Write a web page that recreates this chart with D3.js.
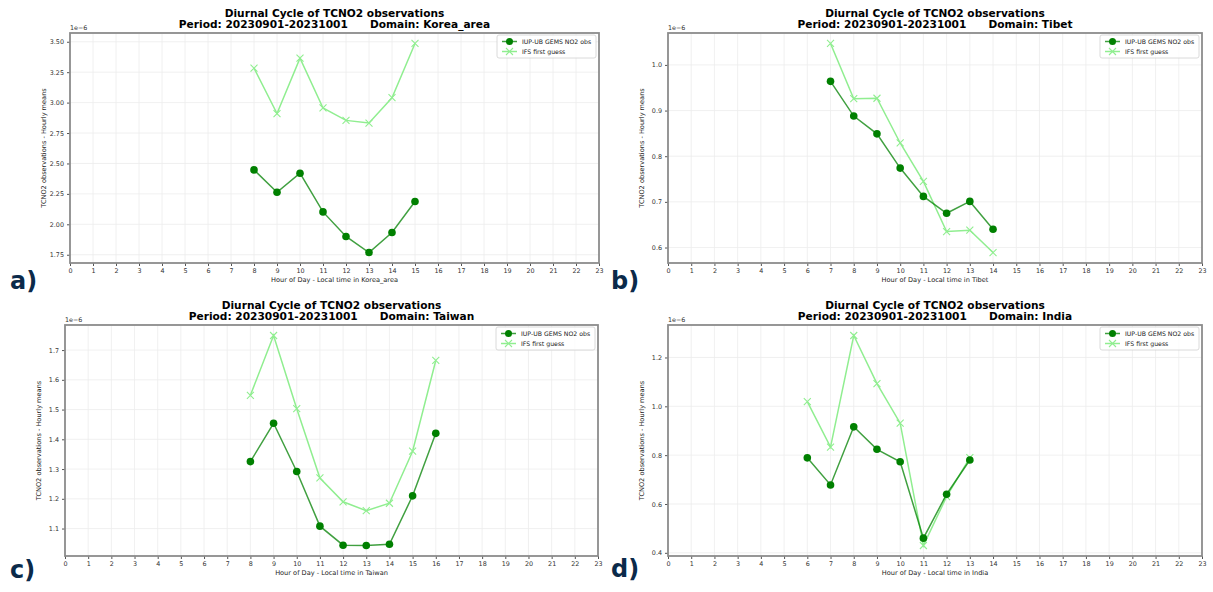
<!DOCTYPE html>
<html lang="en">
<head>
<meta charset="utf-8">
<title>Diurnal Cycle of TCNO2</title>
<script src="https://cdn.jsdelivr.net/npm/d3@7"></script>
<style>
  body { margin: 0; background: #fff; }
  text { font-family: "DejaVu Sans", sans-serif; }
</style>
</head>
<body>
<script>
// hours of day (local time) and hourly means, in units of 1e-6
var koreaHours = [8, 9, 10, 11, 12, 13, 14, 15];
var koreaObs = [2.447, 2.263, 2.42, 2.102, 1.90, 1.768, 1.933, 2.187];
var koreaIfs = [3.283, 2.91, 3.365, 2.956, 2.854, 2.832, 3.04, 3.486];
var koreaTicks = [1.75, 2.00, 2.25, 2.50, 2.75, 3.00, 3.25, 3.50];

var tibetHours = [7, 8, 9, 10, 11, 12, 13, 14];
var tibetObs = [0.964, 0.888, 0.849, 0.774, 0.712, 0.675, 0.701, 0.640];
var tibetIfs = [1.047, 0.926, 0.927, 0.829, 0.745, 0.635, 0.638, 0.589];
var tibetTicks = [0.6, 0.7, 0.8, 0.9, 1.0];

var taiwanHours = [8, 9, 10, 11, 12, 13, 14, 15, 16];
var taiwanObs = [1.325, 1.454, 1.292, 1.108, 1.044, 1.043, 1.047, 1.21, 1.42];
var taiwanIfs = [1.548, 1.749, 1.503, 1.27, 1.19, 1.16, 1.185, 1.36, 1.665];
var taiwanTicks = [1.1, 1.2, 1.3, 1.4, 1.5, 1.6, 1.7];

var indiaHours = [6, 7, 8, 9, 10, 11, 12, 13];
var indiaObs = [0.789, 0.678, 0.916, 0.824, 0.773, 0.46, 0.64, 0.78];
var indiaIfs = [1.019, 0.833, 1.29, 1.093, 0.931, 0.43, 0.63, 0.79];
var indiaTicks = [0.4, 0.6, 0.8, 1.0, 1.2];

var xTicks = [0, 1, 2, 3, 4, 5, 6, 7, 8, 9, 10, 11, 12, 13, 14, 15, 16, 17, 18, 19, 20, 21, 22, 23];
var seriesNames = ["IUP-UB GEMS NO2 obs", "IFS first guess"];
var titleLine1 = "Diurnal Cycle of TCNO2 observations";
var period = "Period: 20230901-20231001";

var w = 1213, h = 592;
var obsColor = "#008000", ifsColor = "#90ee90";

var panels = [
  {letter: "a)", domain: "Korea_area", hours: koreaHours, obs: koreaObs, ifs: koreaIfs, ticks: koreaTicks, fmt: ".2f",
   x0: 70, x1: 599, y0: 33, y1: 263, lx: 10, ly: 289},
  {letter: "b)", domain: "Tibet", hours: tibetHours, obs: tibetObs, ifs: tibetIfs, ticks: tibetTicks, fmt: ".1f",
   x0: 668, x1: 1202, y0: 33, y1: 263, lx: 611, ly: 289},
  {letter: "c)", domain: "Taiwan", hours: taiwanHours, obs: taiwanObs, ifs: taiwanIfs, ticks: taiwanTicks, fmt: ".1f",
   x0: 65, x1: 598, y0: 325, y1: 556, lx: 10, ly: 578},
  {letter: "d)", domain: "India", hours: indiaHours, obs: indiaObs, ifs: indiaIfs, ticks: indiaTicks, fmt: ".1f",
   x0: 668, x1: 1202, y0: 325, y1: 556, lx: 611, ly: 577}
];

var svg = d3.select("body").append("svg")
  .attr("width", w)
  .attr("height", h);

panels.forEach(function(p) {
  var all = p.obs.concat(p.ifs);
  var lo = d3.min(all), hi = d3.max(all), pad = (hi - lo) * 0.05;

  var xScale = d3.scaleLinear().domain([0, 23]).range([p.x0, p.x1]);
  var yScale = d3.scaleLinear().domain([lo - pad, hi + pad]).range([p.y1, p.y0]);
  var cx = (p.x0 + p.x1) / 2;

  var g = svg.append("g");

  // grid
  g.selectAll(".gx").data(xTicks).enter().append("line")
    .attr("x1", function(d) { return xScale(d); })
    .attr("x2", function(d) { return xScale(d); })
    .attr("y1", p.y0).attr("y2", p.y1)
    .attr("stroke", "#ececec").attr("stroke-width", 0.8);
  g.selectAll(".gy").data(p.ticks).enter().append("line")
    .attr("x1", p.x0).attr("x2", p.x1)
    .attr("y1", function(d) { return yScale(d); })
    .attr("y2", function(d) { return yScale(d); })
    .attr("stroke", "#ececec").attr("stroke-width", 0.8);

  // axes
  var xAxis = g.append("g")
    .attr("transform", "translate(0," + p.y1 + ")")
    .call(d3.axisBottom(xScale).tickValues(xTicks).tickSize(3).tickPadding(2).tickFormat(d3.format("d")));
  var yAxis = g.append("g")
    .attr("transform", "translate(" + p.x0 + ",0)")
    .call(d3.axisLeft(yScale).tickValues(p.ticks).tickSize(3).tickPadding(3).tickFormat(d3.format(p.fmt)));
  [xAxis, yAxis].forEach(function(a) {
    a.select(".domain").remove();
    a.selectAll("line").attr("stroke", "#555");
    a.selectAll("text").attr("fill", "#333").attr("font-size", "6.4px")
      .attr("font-family", "DejaVu Sans, sans-serif");
  });

  // frame
  g.append("rect")
    .attr("x", p.x0).attr("y", p.y0)
    .attr("width", p.x1 - p.x0).attr("height", p.y1 - p.y0)
    .attr("fill", "none").attr("stroke", "#8c8c8c").attr("stroke-width", 1.8);

  var line = d3.line()
    .x(function(d) { return xScale(d[0]); })
    .y(function(d) { return yScale(d[1]); });

  var ifsPts = d3.zip(p.hours, p.ifs);
  var obsPts = d3.zip(p.hours, p.obs);

  g.append("path").datum(ifsPts).attr("d", line)
    .attr("fill", "none").attr("stroke", ifsColor).attr("stroke-width", 1.5);
  g.selectAll(".xm").data(ifsPts).enter().append("path")
    .attr("transform", function(d) { return "translate(" + xScale(d[0]) + "," + yScale(d[1]) + ")"; })
    .attr("d", "M-3.5,-3.5L3.5,3.5M-3.5,3.5L3.5,-3.5")
    .attr("stroke", ifsColor).attr("stroke-width", 1.1).attr("fill", "none");

  g.append("path").datum(obsPts).attr("d", line)
    .attr("fill", "none").attr("stroke", obsColor).attr("stroke-opacity", 0.75).attr("stroke-width", 1.5);
  g.selectAll(".om").data(obsPts).enter().append("circle")
    .attr("cx", function(d) { return xScale(d[0]); })
    .attr("cy", function(d) { return yScale(d[1]); })
    .attr("r", 3.8)
    .attr("fill", obsColor);

  // titles
  g.append("text").attr("x", cx).attr("y", p.y0 - 16)
    .attr("text-anchor", "middle").attr("font-size", "10.6px").attr("font-weight", "bold")
    .text(titleLine1);
  g.append("text").attr("x", cx).attr("y", p.y0 - 5.5)
    .attr("text-anchor", "middle").attr("font-size", "10.6px").attr("font-weight", "bold")
    .attr("xml:space", "preserve")
    .text(period + "      Domain: " + p.domain);

  g.append("text").attr("x", p.x0).attr("y", p.y0 - 3)
    .attr("font-size", "6.4px").attr("fill", "#333").text("1e\u22126");

  g.append("text").attr("x", cx).attr("y", p.y1 + 19)
    .attr("text-anchor", "middle").attr("font-size", "6.6px").attr("fill", "#222")
    .text("Hour of Day - Local time in " + p.domain);

  g.append("text")
    .attr("transform", "translate(" + (p.x0 - 24) + "," + ((p.y0 + p.y1) / 2) + ") rotate(-90)")
    .attr("text-anchor", "middle").attr("font-size", "6.6px").attr("fill", "#222")
    .text("TCNO2 observations - Hourly means");

  // legend
  var lgx = p.x1 - 102, lgy = p.y0 + 2;
  var lg = g.append("g").attr("transform", "translate(" + lgx + "," + lgy + ")");
  lg.append("rect").attr("width", 99).attr("height", 23).attr("rx", 2)
    .attr("fill", "#fff").attr("fill-opacity", 0.8).attr("stroke", "#d0d0d0").attr("stroke-width", 0.8);
  lg.append("line").attr("x1", 5).attr("x2", 20).attr("y1", 6.5).attr("y2", 6.5)
    .attr("stroke", obsColor).attr("stroke-width", 1.5).attr("stroke-opacity", 0.75);
  lg.append("circle").attr("cx", 12.5).attr("cy", 6.5).attr("r", 3.5).attr("fill", obsColor);
  lg.append("line").attr("x1", 5).attr("x2", 20).attr("y1", 16.5).attr("y2", 16.5)
    .attr("stroke", ifsColor).attr("stroke-width", 1.5);
  lg.append("path").attr("transform", "translate(12.5,16.5)")
    .attr("d", "M-3.5,-3.5L3.5,3.5M-3.5,3.5L3.5,-3.5")
    .attr("stroke", ifsColor).attr("stroke-width", 1.1);
  lg.selectAll(".lt").data(seriesNames).enter().append("text")
    .attr("x", 25).attr("y", function(d, i) { return 8.8 + i * 10; })
    .attr("font-size", "6.2px").attr("fill", "#222")
    .text(function(d) { return d; });

  // panel letter
  svg.append("text").attr("x", p.lx).attr("y", p.ly)
    .attr("font-family", "Roboto, sans-serif").attr("font-weight", "bold")
    .attr("font-size", "24px").attr("fill", "#0b2a4a")
    .text(p.letter);
});
</script>
</body>
</html>
